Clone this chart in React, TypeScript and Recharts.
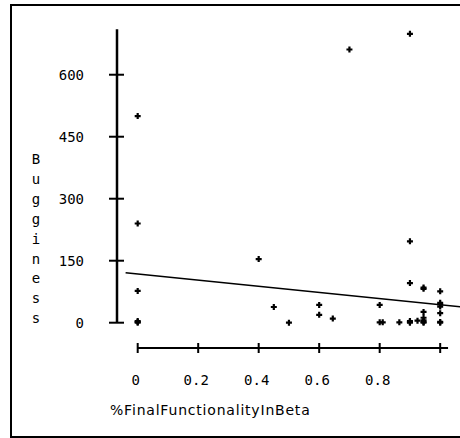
import React from "react";
import { ScatterChart, Scatter, XAxis, YAxis, ReferenceLine } from "recharts";

// Data
const xValues = [
  0, 0, 0, 0, 0, 0,
  0.4, 0.45, 0.5, 0.6, 0.6, 0.645, 0.7,
  0.8, 0.8, 0.81, 0.865,
  0.9, 0.9, 0.9, 0.9, 0.9, 0.9,
  0.925,
  0.945, 0.945, 0.945, 0.945, 0.945, 0.945, 0.945,
  1, 1, 1, 1, 1, 1, 1,
];
const yValues = [
  500, 240, 77, 0, 2, 4,
  154, 38, 0, 43, 19, 10, 661,
  43, 1, 1, 1,
  699, 197, 96, 0, 2, 4,
  5,
  85, 82, 26, 12, 6, 2, 0,
  76, 48, 44, 39, 23, 2, 0,
];
const xTicks = [0, 0.2, 0.4, 0.6, 0.8, 1];
const xTickLabels = ["0", "0.2", "0.4", "0.6", "0.8", ""];
const yTicks = [0, 150, 300, 450, 600];
const yTickLabels = ["0", "150", "300", "450", "600"];
const regressionX = [-0.04, 1.07];
const regressionY = [121, 38];
const xAxisExtent = [0, 1.026];
const yAxisExtent = [0, 710];
const xAxisTitle = "%FinalFunctionalityInBeta";
const yAxisTitle = "Bugginess";

const X_DOMAIN: [number, number] = [-0.0684, 1.0655];
const Y_DOMAIN: [number, number] = [-61.2, 732.4];

const data = xValues.map((x, i) => ({ x, y: yValues[i] }));

const MONO = "'DejaVu Sans Mono', monospace";
const SANS = "'DejaVu Sans', sans-serif";

const XTick = (props: any) => {
  const { x, y, payload } = props;
  const i = xTicks.indexOf(payload.value);
  return (
    <g>
      <line x1={x} x2={x} y1={y - 5} y2={y + 5} stroke="#000" strokeWidth={2} />
      <text x={x - 2} y={y + 37} textAnchor="middle" fontFamily={MONO} fontSize={14} fill="#000">
        {xTickLabels[i]}
      </text>
    </g>
  );
};

const YTick = (props: any) => {
  const { x, y, payload } = props;
  const i = yTicks.indexOf(payload.value);
  return (
    <g>
      <line x1={x - 8} x2={x + 7} y1={y} y2={y} stroke="#000" strokeWidth={2} />
      <text x={x - 33} y={y + 5} textAnchor="end" fontFamily={MONO} fontSize={14} fill="#000">
        {yTickLabels[i]}
      </text>
    </g>
  );
};

const PlusShape = (props: any) => {
  const { cx, cy } = props;
  if (cx == null || cy == null) return null;
  return (
    <path
      d={`M${cx - 3},${cy}H${cx + 3}M${cx},${cy - 3}V${cy + 3}`}
      stroke="#000"
      strokeWidth={2.2}
      fill="none"
    />
  );
};

const XTitle = () => (
  <text x={110} y={415} fontFamily={SANS} fontSize={14} letterSpacing={0.8} fill="#000">
    {xAxisTitle}
  </text>
);

const YTitle = () => (
  <text fontFamily={MONO} fontSize={14} fill="#000" textAnchor="middle">
    {yAxisTitle.split("").map((ch, i) => (
      <tspan key={i} x={36} y={164 + i * 19.9}>
        {ch}
      </tspan>
    ))}
  </text>
);

export default function App() {
  return (
    <div style={{ position: "absolute", left: 0, top: 0, width: 460, height: 438, overflow: "hidden", background: "#fff" }}>
      <div
        style={{
          position: "absolute",
          left: 10,
          top: 4,
          width: 460,
          height: 430,
          borderLeft: "2px solid #000",
          borderTop: "2px solid #000",
          borderBottom: "2px solid #000",
        }}
      />
      <div style={{ position: "absolute", left: 0, top: 0 }}>
        <ScatterChart width={460} height={438} margin={{ top: 20, right: 0, bottom: 0, left: 0 }}>
          <XAxis
            type="number"
            dataKey="x"
            domain={X_DOMAIN}
            allowDataOverflow
            ticks={xTicks}
            interval={0}
            axisLine={false}
            tickLine={false}
            tickSize={0}
            tickMargin={0}
            height={90}
            tick={<XTick />}
            label={{ content: () => <XTitle /> }}
          />
          <YAxis
            type="number"
            dataKey="y"
            domain={Y_DOMAIN}
            allowDataOverflow
            ticks={yTicks}
            interval={0}
            axisLine={false}
            tickLine={false}
            tickSize={0}
            tickMargin={0}
            width={117}
            tick={<YTick />}
            label={{ content: () => <YTitle /> }}
          />
          <ReferenceLine
            segment={[
              { x: X_DOMAIN[0], y: yAxisExtent[0] },
              { x: X_DOMAIN[0], y: yAxisExtent[1] },
            ]}
            stroke="#000"
            strokeWidth={2.5}
            ifOverflow="visible"
          />
          <ReferenceLine
            segment={[
              { x: xAxisExtent[0], y: Y_DOMAIN[0] },
              { x: xAxisExtent[1], y: Y_DOMAIN[0] },
            ]}
            stroke="#000"
            strokeWidth={2}
            ifOverflow="visible"
          />
          <ReferenceLine
            segment={[
              { x: regressionX[0], y: regressionY[0] },
              { x: regressionX[1], y: regressionY[1] },
            ]}
            stroke="#000"
            strokeWidth={1.5}
            ifOverflow="visible"
          />
          <Scatter data={data} shape={<PlusShape />} isAnimationActive={false} />
        </ScatterChart>
      </div>
    </div>
  );
}
